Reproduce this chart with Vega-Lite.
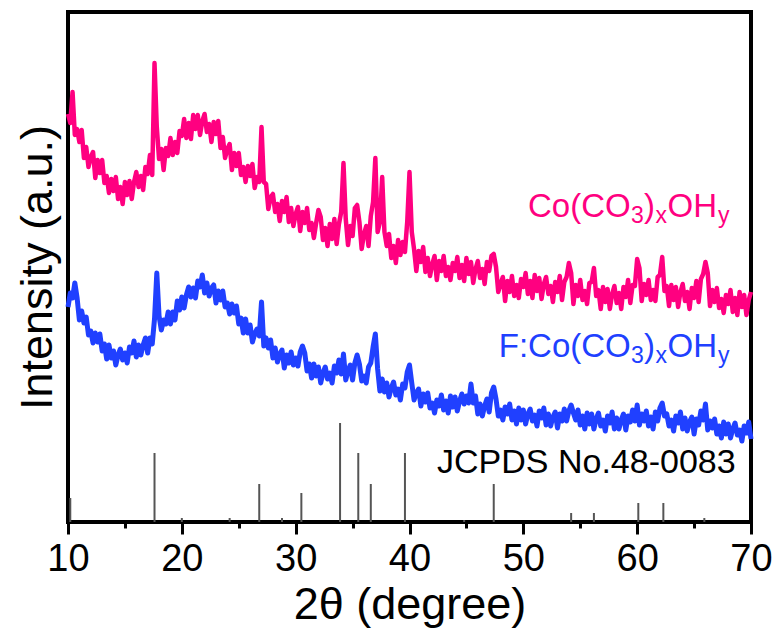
{
  "$schema": "https://vega.github.io/schema/vega-lite/v6.json",
  "width": 683,
  "height": 510,
  "autosize": {"type": "none"},
  "padding": {"left": 68, "top": 12, "right": 31, "bottom": 112},
  "background": "white",
  "config": {
    "view": {"stroke": "black", "strokeWidth": 4},
    "axis": {"grid": false, "labelFont": "Liberation Sans", "titleFont": "Liberation Sans", "labelColor": "black", "titleColor": "black", "titleFontWeight": "normal"},
    "axisY": {"labels": false, "ticks": false, "domain": false, "titleFontSize": 45, "titlePadding": 8}
  },
  "datasets": {
    "xrd": [
      {"t":10.0,"p":408,"f":215},{"t":10.2,"p":399,"f":229},{"t":10.4,"p":430,"f":224},{"t":10.6,"p":387,"f":239},{"t":10.8,"p":393,"f":224},
      {"t":11.0,"p":380,"f":202},{"t":11.2,"p":392,"f":211},{"t":11.4,"p":364,"f":199},{"t":11.6,"p":375,"f":205},{"t":11.8,"p":355,"f":187},
      {"t":12.0,"p":365,"f":191},{"t":12.2,"p":370,"f":179},{"t":12.4,"p":344,"f":189},{"t":12.6,"p":362,"f":180},{"t":12.8,"p":349,"f":188},
      {"t":13.0,"p":362,"f":171},{"t":13.2,"p":339,"f":178},{"t":13.4,"p":346,"f":163},{"t":13.6,"p":329,"f":177},{"t":13.8,"p":343,"f":164},
      {"t":14.0,"p":331,"f":171},{"t":14.2,"p":345,"f":157},{"t":14.4,"p":323,"f":167},{"t":14.6,"p":335,"f":173},{"t":14.8,"p":318,"f":162},
      {"t":15.0,"p":340,"f":169},{"t":15.2,"p":327,"f":159},{"t":15.4,"p":341,"f":175},{"t":15.6,"p":323,"f":169},{"t":15.8,"p":340,"f":181},
      {"t":16.0,"p":350,"f":165},{"t":16.2,"p":335,"f":177},{"t":16.4,"p":346,"f":167},{"t":16.6,"p":332,"f":177},{"t":16.8,"p":355,"f":184},
      {"t":17.0,"p":348,"f":169},{"t":17.2,"p":367,"f":184},{"t":17.4,"p":347,"f":178},{"t":17.6,"p":459,"f":203},{"t":17.8,"p":395,"f":249},
      {"t":18.0,"p":363,"f":206},{"t":18.2,"p":373,"f":192},{"t":18.4,"p":352,"f":202},{"t":18.6,"p":374,"f":198},{"t":18.8,"p":366,"f":210},
      {"t":19.0,"p":384,"f":198},{"t":19.2,"p":367,"f":210},{"t":19.4,"p":380,"f":202},{"t":19.6,"p":369,"f":221},{"t":19.8,"p":391,"f":212},
      {"t":20.0,"p":386,"f":225},{"t":20.2,"p":403,"f":214},{"t":20.4,"p":384,"f":227},{"t":20.6,"p":399,"f":235},{"t":20.8,"p":383,"f":225},
      {"t":21.0,"p":407,"f":234},{"t":21.2,"p":393,"f":224},{"t":21.4,"p":407,"f":241},{"t":21.6,"p":387,"f":235},{"t":21.8,"p":401,"f":247},
      {"t":22.0,"p":408,"f":229},{"t":22.2,"p":390,"f":239},{"t":22.4,"p":398,"f":226},{"t":22.6,"p":380,"f":234},{"t":22.8,"p":400,"f":237},
      {"t":23.0,"p":388,"f":219},{"t":23.2,"p":401,"f":231},{"t":23.4,"p":374,"f":222},{"t":23.6,"p":385,"f":231},{"t":23.8,"p":364,"f":215},
      {"t":24.0,"p":373,"f":219},{"t":24.2,"p":378,"f":208},{"t":24.4,"p":352,"f":218},{"t":24.6,"p":369,"f":209},{"t":24.8,"p":356,"f":216},
      {"t":25.0,"p":369,"f":198},{"t":25.2,"p":347,"f":204},{"t":25.4,"p":355,"f":189},{"t":25.6,"p":340,"f":203},{"t":25.8,"p":356,"f":189},
      {"t":26.0,"p":346,"f":197},{"t":26.2,"p":358,"f":180},{"t":26.4,"p":334,"f":188},{"t":26.6,"p":345,"f":193},{"t":26.8,"p":340,"f":186},
      {"t":27.0,"p":395,"f":220},{"t":27.2,"p":340,"f":176},{"t":27.4,"p":338,"f":184},{"t":27.6,"p":313,"f":174},{"t":27.8,"p":325,"f":182},
      {"t":28.0,"p":328,"f":164},{"t":28.2,"p":310,"f":174},{"t":28.4,"p":318,"f":160},{"t":28.6,"p":301,"f":168},{"t":28.8,"p":321,"f":172},
      {"t":29.0,"p":310,"f":154},{"t":29.2,"p":325,"f":167},{"t":29.4,"p":300,"f":159},{"t":29.6,"p":314,"f":170},{"t":29.8,"p":296,"f":157},
      {"t":30.0,"p":308,"f":164},{"t":30.2,"p":315,"f":156},{"t":30.4,"p":291,"f":170},{"t":30.6,"p":310,"f":176},{"t":30.8,"p":299,"f":169},
      {"t":31.0,"p":314,"f":151},{"t":31.2,"p":292,"f":158},{"t":31.4,"p":299,"f":144},{"t":31.6,"p":284,"f":158},{"t":31.8,"p":299,"f":146},
      {"t":32.0,"p":312,"f":155},{"t":32.2,"p":305,"f":139},{"t":32.4,"p":282,"f":149},{"t":32.6,"p":294,"f":155},{"t":32.8,"p":276,"f":143},
      {"t":33.0,"p":298,"f":149},{"t":33.2,"p":283,"f":139},{"t":33.4,"p":303,"f":156},{"t":33.6,"p":278,"f":149},{"t":33.8,"p":298,"f":162},
      {"t":34.0,"p":310,"f":148},{"t":34.2,"p":359,"f":168},{"t":34.4,"p":303,"f":142},{"t":34.6,"p":277,"f":151},{"t":34.8,"p":296,"f":157},
      {"t":35.0,"p":286,"f":142},{"t":35.2,"p":314,"f":159},{"t":35.4,"p":317,"f":167},{"t":35.6,"p":300,"f":158},{"t":35.8,"p":273,"f":141},
      {"t":36.0,"p":288,"f":146},{"t":36.2,"p":296,"f":139},{"t":36.4,"p":276,"f":155},{"t":36.6,"p":306,"f":159},{"t":36.8,"p":320,"f":175},
      {"t":37.0,"p":364,"f":188},{"t":37.2,"p":290,"f":153},{"t":37.4,"p":300,"f":131},{"t":37.6,"p":345,"f":143},{"t":37.8,"p":290,"f":130},
      {"t":38.0,"p":276,"f":139},{"t":38.2,"p":288,"f":125},{"t":38.4,"p":264,"f":134},{"t":38.6,"p":276,"f":140},{"t":38.8,"p":259,"f":127},
      {"t":39.0,"p":282,"f":133},{"t":39.2,"p":267,"f":122},{"t":39.4,"p":280,"f":138},{"t":39.6,"p":270,"f":134},{"t":39.8,"p":300,"f":150},
      {"t":40.0,"p":350,"f":157},{"t":40.2,"p":290,"f":139},{"t":40.4,"p":273,"f":122},{"t":40.6,"p":251,"f":129},{"t":40.8,"p":271,"f":133},
      {"t":41.0,"p":260,"f":116},{"t":41.2,"p":275,"f":128},{"t":41.4,"p":250,"f":120},{"t":41.6,"p":264,"f":129},{"t":41.8,"p":246,"f":114},
      {"t":42.0,"p":258,"f":119},{"t":42.2,"p":266,"f":109},{"t":42.4,"p":242,"f":122},{"t":42.6,"p":261,"f":116},{"t":42.8,"p":251,"f":127},
      {"t":43.0,"p":266,"f":112},{"t":43.2,"p":246,"f":121},{"t":43.4,"p":255,"f":109},{"t":43.6,"p":242,"f":126},{"t":43.8,"p":259,"f":115},
      {"t":44.0,"p":251,"f":125},{"t":44.2,"p":265,"f":111},{"t":44.4,"p":244,"f":121},{"t":44.6,"p":257,"f":128},{"t":44.8,"p":241,"f":118},
      {"t":45.0,"p":264,"f":126},{"t":45.2,"p":248,"f":119},{"t":45.4,"p":260,"f":138},{"t":45.6,"p":239,"f":119},{"t":45.8,"p":253,"f":126},
      {"t":46.0,"p":261,"f":108},{"t":46.2,"p":244,"f":118},{"t":46.4,"p":253,"f":106},{"t":46.6,"p":238,"f":116},{"t":46.8,"p":260,"f":123},
      {"t":47.0,"p":251,"f":110},{"t":47.2,"p":266,"f":129},{"t":47.4,"p":268,"f":135},{"t":47.6,"p":255,"f":123},{"t":47.8,"p":230,"f":106},
      {"t":48.0,"p":238,"f":112},{"t":48.2,"p":245,"f":102},{"t":48.4,"p":221,"f":115},{"t":48.6,"p":241,"f":108},{"t":48.8,"p":230,"f":118},
      {"t":49.0,"p":246,"f":102},{"t":49.2,"p":226,"f":111},{"t":49.4,"p":237,"f":98},{"t":49.6,"p":224,"f":114},{"t":49.8,"p":243,"f":102},
      {"t":50.0,"p":235,"f":112},{"t":50.2,"p":249,"f":98},{"t":50.4,"p":228,"f":108},{"t":50.6,"p":241,"f":113},{"t":50.8,"p":224,"f":101},
      {"t":51.0,"p":247,"f":107},{"t":51.2,"p":231,"f":96},{"t":51.4,"p":244,"f":111},{"t":51.6,"p":223,"f":104},{"t":51.8,"p":238,"f":114},
      {"t":52.0,"p":245,"f":97},{"t":52.2,"p":228,"f":108},{"t":52.4,"p":236,"f":96},{"t":52.6,"p":220,"f":105},{"t":52.8,"p":240,"f":110},
      {"t":53.0,"p":230,"f":94},{"t":53.2,"p":246,"f":108},{"t":53.4,"p":222,"f":101},{"t":53.6,"p":240,"f":113},{"t":53.8,"p":245,"f":101},
      {"t":54.0,"p":259,"f":111},{"t":54.2,"p":249,"f":117},{"t":54.4,"p":218,"f":109},{"t":54.6,"p":237,"f":102},{"t":54.8,"p":226,"f":112},
      {"t":55.0,"p":242,"f":97},{"t":55.2,"p":222,"f":106},{"t":55.4,"p":231,"f":93},{"t":55.6,"p":218,"f":109},{"t":55.8,"p":239,"f":98},
      {"t":56.0,"p":240,"f":108},{"t":56.2,"p":254,"f":93},{"t":56.4,"p":226,"f":103},{"t":56.6,"p":232,"f":109},{"t":56.8,"p":213,"f":96},
      {"t":57.0,"p":235,"f":102},{"t":57.2,"p":220,"f":91},{"t":57.4,"p":233,"f":106},{"t":57.6,"p":213,"f":99},{"t":57.8,"p":228,"f":110},
      {"t":58.0,"p":236,"f":93},{"t":58.2,"p":219,"f":104},{"t":58.4,"p":229,"f":93},{"t":58.6,"p":213,"f":102},{"t":58.8,"p":235,"f":108},
      {"t":59.0,"p":225,"f":92},{"t":59.2,"p":242,"f":106},{"t":59.4,"p":219,"f":100},{"t":59.6,"p":237,"f":112},{"t":59.8,"p":236,"f":101},
      {"t":60.0,"p":263,"f":117},{"t":60.2,"p":254,"f":97},{"t":60.4,"p":221,"f":108},{"t":60.6,"p":238,"f":101},{"t":60.8,"p":227,"f":111},
      {"t":61.0,"p":242,"f":96},{"t":61.2,"p":222,"f":105},{"t":61.4,"p":232,"f":93},{"t":61.6,"p":221,"f":110},{"t":61.8,"p":245,"f":101},
      {"t":62.0,"p":247,"f":114},{"t":62.2,"p":265,"f":119},{"t":62.4,"p":231,"f":106},{"t":62.6,"p":236,"f":108},{"t":62.8,"p":216,"f":96},
      {"t":63.0,"p":237,"f":102},{"t":63.2,"p":222,"f":91},{"t":63.4,"p":235,"f":106},{"t":63.6,"p":215,"f":99},{"t":63.8,"p":230,"f":110},
      {"t":64.0,"p":238,"f":93},{"t":64.2,"p":221,"f":104},{"t":64.4,"p":230,"f":91},{"t":64.6,"p":213,"f":100},{"t":64.8,"p":234,"f":105},
      {"t":65.0,"p":224,"f":88},{"t":65.2,"p":241,"f":103},{"t":65.4,"p":220,"f":97},{"t":65.6,"p":243,"f":111},{"t":65.8,"p":248,"f":102},
      {"t":66.0,"p":260,"f":118},{"t":66.2,"p":249,"f":92},{"t":66.4,"p":216,"f":101},{"t":66.6,"p":232,"f":94},{"t":66.8,"p":220,"f":103},
      {"t":67.0,"p":234,"f":88},{"t":67.2,"p":214,"f":96},{"t":67.4,"p":223,"f":84},{"t":67.6,"p":209,"f":100},{"t":67.8,"p":227,"f":88},
      {"t":68.0,"p":218,"f":98},{"t":68.2,"p":232,"f":84},{"t":68.4,"p":210,"f":93},{"t":68.6,"p":224,"f":99},{"t":68.8,"p":207,"f":87},
      {"t":69.0,"p":230,"f":92},{"t":69.2,"p":215,"f":81},{"t":69.4,"p":227,"f":96},{"t":69.6,"p":207,"f":89},{"t":69.8,"p":222,"f":100},
      {"t":70.0,"p":230,"f":83}
    ],
    "sticks": [
      {"t":10.2,"h":24},{"t":17.6,"h":69},{"t":20.0,"h":4},{"t":24.2,"h":4},{"t":26.8,"h":38},{"t":28.8,"h":4},
      {"t":30.5,"h":29},{"t":33.9,"h":99},{"t":35.5,"h":69},{"t":36.6,"h":38},{"t":39.6,"h":69},{"t":44.8,"h":2},
      {"t":47.4,"h":38},{"t":54.2,"h":9},{"t":56.2,"h":9},{"t":60.1,"h":19},{"t":62.3,"h":19},{"t":65.9,"h":4}
    ]
  },
  "layer": [
    {
      "data": {"name": "sticks"},
      "mark": {"type": "rule", "color": "#555555", "strokeWidth": 2},
      "encoding": {
        "x": {"field": "t", "type": "quantitative", "scale": {"domain": [10, 70], "nice": false, "zero": false},
          "axis": {"orient": "bottom", "values": [10, 15, 20, 25, 30, 35, 40, 45, 50, 55, 60, 65, 70], "domain": false,
            "tickSize": {"condition": {"test": "datum.value % 10 !== 0", "value": 6}, "value": 12},
            "tickWidth": 3, "tickColor": "black", "tickOpacity": 1,
            "labelExpr": "datum.value % 10 === 0 ? datum.label : ''",
            "labelFontSize": 38, "labelPadding": 6, "labelFlush": false, "labelOverlap": false,
            "title": "2θ (degree)", "titleFontSize": 45, "titlePadding": 4}},
        "y": {"field": "h", "type": "quantitative", "scale": {"domain": [0, 510], "nice": false, "zero": false}, "title": "Intensity (a.u.)"},
        "y2": {"datum": 0}
      }
    },
    {
      "data": {"name": "xrd"},
      "mark": {"type": "line", "color": "#ff0080", "strokeWidth": 4.5, "strokeJoin": "round", "interpolate": "linear"},
      "encoding": {
        "x": {"field": "t", "type": "quantitative"},
        "y": {"field": "p", "type": "quantitative", "title": "Intensity (a.u.)"}
      }
    },
    {
      "data": {"name": "xrd"},
      "mark": {"type": "line", "color": "#2040ff", "strokeWidth": 5, "strokeJoin": "round", "interpolate": "linear"},
      "encoding": {
        "x": {"field": "t", "type": "quantitative"},
        "y": {"field": "f", "type": "quantitative", "title": "Intensity (a.u.)"}
      }
    },
    {
      "data": {"values": [{"t": 50.41, "v": 305, "s": "Co(CO"}, {"t": 60.6, "v": 305, "s": ")"}, {"t": 62.67, "v": 305, "s": "OH"}]},
      "mark": {"type": "text", "font": "Liberation Sans", "fontSize": 33, "color": "#ff0080", "align": "left", "baseline": "alphabetic"},
      "encoding": {
        "x": {"field": "t", "type": "quantitative"},
        "y": {"field": "v", "type": "quantitative", "title": "Intensity (a.u.)"},
        "text": {"field": "s"}
      }
    },
    {
      "data": {"values": [{"t": 59.46, "v": 299, "s": "3"}, {"t": 61.61, "v": 299, "s": "x"}, {"t": 67.1, "v": 299, "s": "y"}]},
      "mark": {"type": "text", "font": "Liberation Sans", "fontSize": 23, "color": "#ff0080", "align": "left", "baseline": "alphabetic"},
      "encoding": {
        "x": {"field": "t", "type": "quantitative"},
        "y": {"field": "v", "type": "quantitative", "title": "Intensity (a.u.)"},
        "text": {"field": "s"}
      }
    },
    {
      "data": {"values": [{"t": 47.84, "v": 165, "s": "F:Co(CO"}, {"t": 60.6, "v": 165, "s": ")"}, {"t": 62.67, "v": 165, "s": "OH"}]},
      "mark": {"type": "text", "font": "Liberation Sans", "fontSize": 33, "color": "#2040ff", "align": "left", "baseline": "alphabetic"},
      "encoding": {
        "x": {"field": "t", "type": "quantitative"},
        "y": {"field": "v", "type": "quantitative", "title": "Intensity (a.u.)"},
        "text": {"field": "s"}
      }
    },
    {
      "data": {"values": [{"t": 59.46, "v": 159, "s": "3"}, {"t": 61.61, "v": 159, "s": "x"}, {"t": 67.1, "v": 159, "s": "y"}]},
      "mark": {"type": "text", "font": "Liberation Sans", "fontSize": 23, "color": "#2040ff", "align": "left", "baseline": "alphabetic"},
      "encoding": {
        "x": {"field": "t", "type": "quantitative"},
        "y": {"field": "v", "type": "quantitative", "title": "Intensity (a.u.)"},
        "text": {"field": "s"}
      }
    },
    {
      "data": {"values": [{"t": 42.42, "v": 49, "s": "JCPDS No.48-0083"}]},
      "mark": {"type": "text", "font": "Liberation Sans", "fontSize": 34, "color": "black", "align": "left", "baseline": "alphabetic"},
      "encoding": {
        "x": {"field": "t", "type": "quantitative"},
        "y": {"field": "v", "type": "quantitative", "title": "Intensity (a.u.)"},
        "text": {"field": "s"}
      }
    }
  ]
}
